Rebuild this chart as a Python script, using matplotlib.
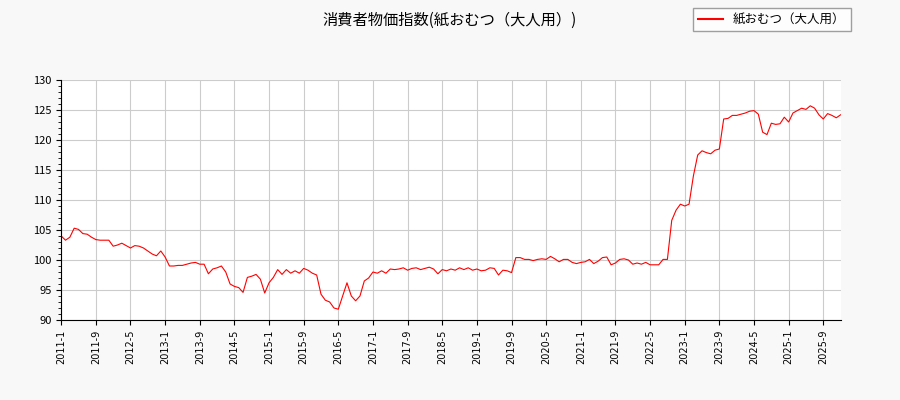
import matplotlib
matplotlib.use("Agg")
import matplotlib.pyplot as plt
from matplotlib.ticker import MultipleLocator
from matplotlib.lines import Line2D

plt.rcParams['font.family'] = ['Noto Sans CJK JP', 'DejaVu Sans']

values = [
104.0,103.3,103.8,105.3,105.1,104.4,104.3,103.8,103.4,103.3,103.3,103.3,
102.3,102.5,102.8,102.4,102.0,102.4,102.3,102.0,101.5,101.0,100.7,101.5,
100.5,99.0,99.0,99.1,99.1,99.3,99.5,99.6,99.3,99.3,97.7,98.5,
98.7,99.0,98.0,96.0,95.6,95.4,94.6,97.1,97.3,97.6,96.8,94.5,
96.2,97.1,98.4,97.6,98.4,97.8,98.2,97.8,98.6,98.3,97.8,97.5,
94.3,93.3,93.0,92.0,91.8,94.0,96.2,94.0,93.2,94.0,96.5,97.0,
98.0,97.8,98.2,97.8,98.5,98.4,98.5,98.7,98.3,98.6,98.7,98.4,
98.6,98.8,98.5,97.7,98.4,98.2,98.5,98.3,98.7,98.4,98.7,98.3,
98.5,98.2,98.3,98.7,98.6,97.5,98.3,98.2,97.9,100.4,100.4,100.1,
100.1,99.9,100.1,100.2,100.1,100.6,100.2,99.7,100.1,100.1,99.6,99.4,
99.6,99.7,100.1,99.4,99.8,100.4,100.5,99.2,99.5,100.1,100.2,100.0,
99.3,99.5,99.3,99.6,99.2,99.2,99.2,100.1,100.1,106.6,108.3,109.3,
109.0,109.3,114.0,117.5,118.2,117.9,117.7,118.3,118.5,123.5,123.6,124.1,
124.1,124.3,124.5,124.8,124.9,124.3,121.3,120.9,122.8,122.6,122.7,123.8,
123.0,124.5,124.9,125.3,125.1,125.7,125.3,124.2,123.5,124.4,124.1,123.7,124.2,
]
start_year = 2011
labels = []
for i in range(len(values)):
    y, m = divmod(i, 12)
    labels.append(f"{start_year+y}-{m+1}")

fig = plt.figure(figsize=(9, 4), dpi=100, facecolor='#f8f8f8')
ax = fig.add_axes([0.068, 0.2, 0.866, 0.6])
ax.plot(range(len(values)), values, color='red', lw=0.8)
ax.set_xlim(0, len(values) - 1)
ax.set_ylim(90, 130)
ticks = list(range(0, len(values), 8))
ax.set_xticks(ticks)
ax.set_xticklabels([labels[i] for i in ticks], rotation=90, fontsize=7, family=['DejaVu Sans'])
ax.yaxis.set_major_locator(MultipleLocator(5))
ax.yaxis.set_minor_locator(MultipleLocator(1))
ax.tick_params(axis='y', labelsize=8)
ax.grid(True, color='#cccccc', lw=0.8)
ax.set_axisbelow(True)
ax.spines['top'].set_visible(False)
ax.spines['right'].set_visible(False)
fig.suptitle('消費者物価指数(紙おむつ（大人用）)', fontsize=11, y=0.97)
handle = Line2D([], [], color='red', lw=1.5)
fig.legend([handle], ['紙おむつ（大人用）'], loc='upper right', bbox_to_anchor=(0.952, 0.995),
           fontsize=9, fancybox=False, edgecolor='#888888')
fig.savefig('out.png', facecolor=fig.get_facecolor())
